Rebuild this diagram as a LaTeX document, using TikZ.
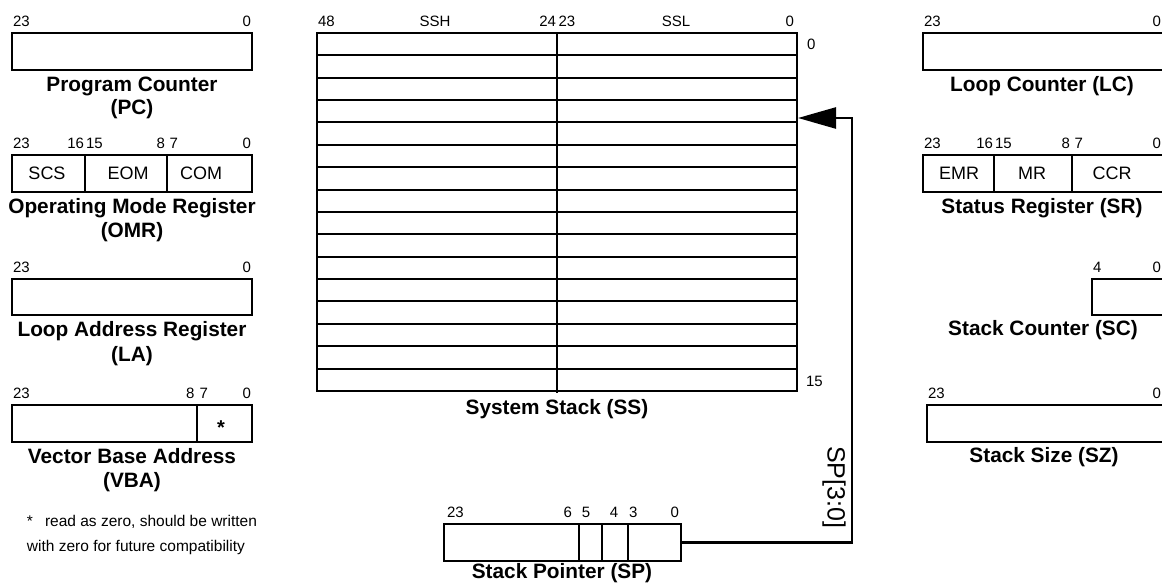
\documentclass[tikz,border=0pt]{standalone}
\usepackage{fontspec}
\setmainfont{Liberation Sans}
\usetikzlibrary{arrows.meta}
\begin{document}
\begin{tikzpicture}[x=1pt,y=-1pt, line width=2pt,
 reg/.style={draw, rectangle, line width=2pt, inner sep=0pt, outer sep=0pt, anchor=north west},
 bits/.style={font=\fontsize{15}{18}\selectfont, inner sep=0pt, anchor=base},
 bitsw/.style={bits, anchor=base west},
 bitse/.style={bits, anchor=base east},
 lbl/.style={font=\bfseries\fontsize{20.8}{24}\selectfont, inner sep=0pt, anchor=base},
 fld/.style={font=\fontsize{18}{20}\selectfont, inner sep=0pt, anchor=base},
 note/.style={font=\fontsize{15.5}{18}\selectfont, inner sep=0pt, anchor=base west},
 conn/.style={line width=2.5pt, -{Triangle[length=38pt,width=21pt]}}]
\useasboundingbox (0,0) rectangle (1162,585);

% ---------- Program Counter ----------
\node[reg, minimum width=240pt, minimum height=37pt] (pc) at (12,33) {};
\node[bitsw] (pc23) at (12,26.5) {23};
\node[bitse] (pc0) at (252,26.5) {0};
\node[lbl] (pcl1) at (132,92) {Program Counter};
\node[lbl] (pcl2) at (132,115) {(PC)};

% ---------- OMR ----------
\node[reg, minimum width=240pt, minimum height=37pt] (omr) at (12,155) {};
\draw (85,155) -- (85,192);
\draw (167,155) -- (167,192);
\node[bitsw] (omr23) at (12,148.5) {23};
\node[bitse] (omr16) at (85,148.5) {16};
\node[bitsw] (omr15) at (85,148.5) {15};
\node[bitse] (omr8) at (166,148.5) {8};
\node[bitsw] (omr7) at (168.5,148.5) {7};
\node[bitse] (omr0) at (252,148.5) {0};
\node[fld] (scs) at (47,180) {SCS};
\node[fld] (eom) at (128,180) {EOM};
\node[fld] (com) at (201,180) {COM};
\node[lbl] (omrl1) at (132,214) {Operating Mode Register};
\node[lbl] (omrl2) at (132,238) {(OMR)};

% ---------- LA ----------
\node[reg, minimum width=240pt, minimum height=36pt] (la) at (12,279) {};
\node[bitsw] (la23) at (12,272.5) {23};
\node[bitse] (la0) at (252,272.5) {0};
\node[lbl] (lal1) at (132,337) {Loop Address Register};
\node[lbl] (lal2) at (132,361) {(LA)};

% ---------- VBA ----------
\node[reg, minimum width=240pt, minimum height=36.5pt] (vba) at (12,405) {};
\draw (197,405) -- (197,441.5);
\node[bitsw] (vba23) at (12,398.5) {23};
\node[bitse] (vba8) at (195.5,398.5) {8};
\node[bitsw] (vba7) at (198.5,398.5) {7};
\node[bitse] (vba0) at (252,398.5) {0};
\node[font=\bfseries\fontsize{20}{24}\selectfont, anchor=base, inner sep=0pt] (star) at (221,434) {*};
\node[lbl] (vbal1) at (132,463) {Vector Base Address};
\node[lbl] (vbal2) at (132,487) {(VBA)};

\node[note] (fn1) at (26,526) {*\hspace{12pt}read as zero, should be written};
\node[note] (fn2) at (26,551) {with zero for future compatibility};

% ---------- System Stack ----------
\node[reg, minimum width=480pt, minimum height=358pt] (ss) at (317,33) {};
\foreach \k in {1,...,15} {
  \draw (317,33+\k*22.375) -- (797,33+\k*22.375);
}
\draw (557,33) -- (557,393);
\node[bitsw] (ss48) at (317,26.5) {48};
\node[bits] (ssh) at (435,26.5) {SSH};
\node[bitse] (ss24) at (557,26.5) {24};
\node[bitsw] (ss23) at (557.5,26.5) {23};
\node[bits] (ssl) at (676,26.5) {SSL};
\node[bitse] (ss0) at (795,26.5) {0};
\node[bitsw] (row0) at (806,50) {0};
\node[bitsw] (row15) at (805,386) {15};
\node[lbl] (ssl1) at (557,414) {System Stack (SS)};

% ---------- Stack Pointer ----------
\node[reg, minimum width=237pt, minimum height=37pt] (sp) at (444,524) {};
\draw (579,524) -- (579,561);
\draw (602,524) -- (602,561);
\draw (628,524) -- (628,561);
\node[bitsw] (sp23) at (446,517.5) {23};
\node[bitse] (sp6) at (573,517.5) {6};
\node[bits] (sp5) at (586,517.5) {5};
\node[bits] (sp4) at (614,517.5) {4};
\node[bitsw] (sp3) at (628,517.5) {3};
\node[bitse] (sp0) at (680,517.5) {0};
\node[lbl] (spl) at (562,578) {Stack Pointer (SP)};

% ---------- connector ----------
\coordinate (sstip) at (798,118);
\draw[conn] (sp.east) -- ++(171,0) |- (sstip);
\node[font=\fontsize{25}{28}\selectfont, inner sep=0pt, rotate=-90] (splbl) at (834,487) {SP[3:0]};

% ---------- Loop Counter ----------
\node[reg, minimum width=242pt, minimum height=37pt] (lc) at (923,33) {};
\node[bitsw] (lc23) at (923,26.5) {23};
\node[bitse] (lc0) at (1162,26.5) {0};
\node[lbl] (lcl) at (1042,92) {Loop Counter (LC)};

% ---------- Status Register ----------
\node[reg, minimum width=242pt, minimum height=37pt] (sr) at (923,155) {};
\draw (994,155) -- (994,192);
\draw (1072,155) -- (1072,192);
\node[bitsw] (sr23) at (923,148.5) {23};
\node[bitse] (sr16) at (994,148.5) {16};
\node[bitsw] (sr15) at (994,148.5) {15};
\node[bitse] (sr8) at (1071,148.5) {8};
\node[bitsw] (sr7) at (1073.5,148.5) {7};
\node[bitse] (sr0) at (1162,148.5) {0};
\node[fld] (emr) at (959,180) {EMR};
\node[fld] (mr) at (1032,180) {MR};
\node[fld] (ccr) at (1112,180) {CCR};
\node[lbl] (srl) at (1042,214) {Status Register (SR)};

% ---------- Stack Counter ----------
\node[reg, minimum width=73pt, minimum height=36pt] (sc) at (1092,279) {};
\node[bitsw] (sc4) at (1092,272.5) {4};
\node[bitse] (sc0) at (1162,272.5) {0};
\node[lbl] (scl) at (1043,336) {Stack Counter (SC)};

% ---------- Stack Size ----------
\node[reg, minimum width=240pt, minimum height=36.5pt] (sz) at (927,405) {};
\node[bitsw] (sz23) at (927,398.5) {23};
\node[bitse] (sz0) at (1162,398.5) {0};
\node[lbl] (szl) at (1044,462) {Stack Size (SZ)};
\end{tikzpicture}
\end{document}
